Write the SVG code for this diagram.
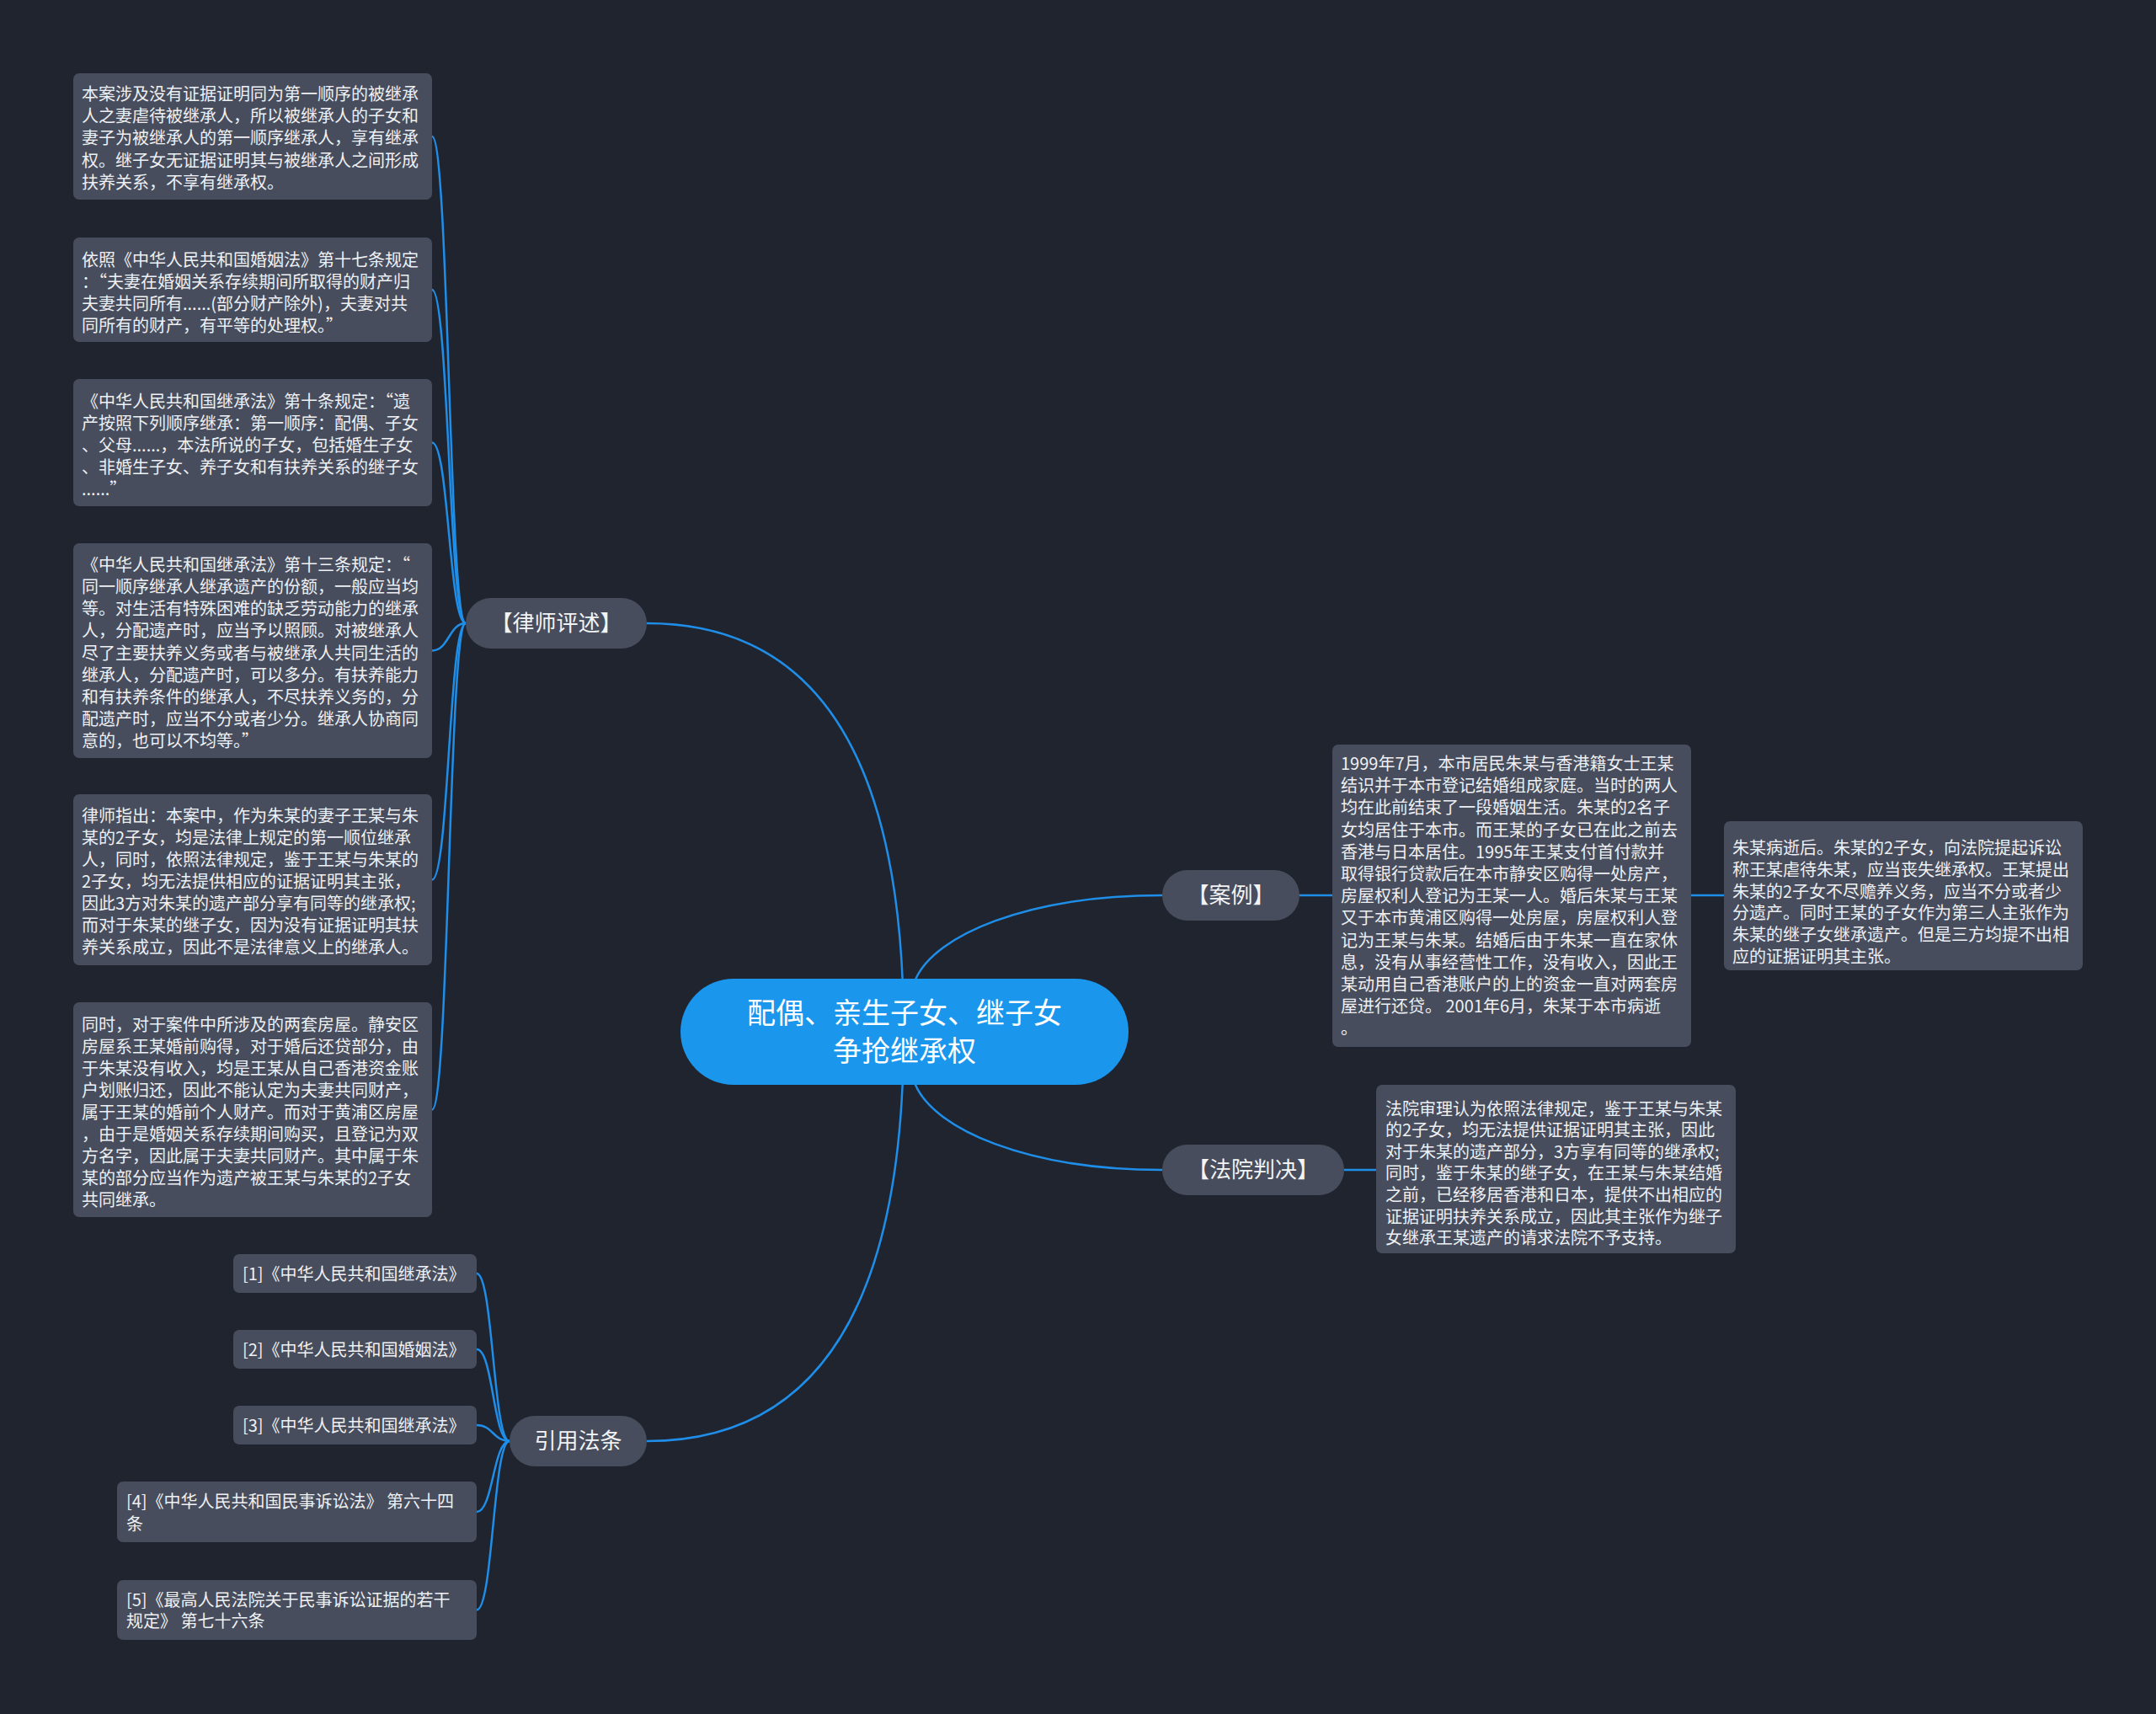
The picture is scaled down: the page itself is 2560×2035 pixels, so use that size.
<svg xmlns="http://www.w3.org/2000/svg" width="2560" height="2035" viewBox="0 0 2560 2035">
<style>
.box{fill:#474d5c}
.pill{fill:#474d5c}
.t{font-family:"Noto Sans CJK SC","Noto Sans",sans-serif;font-size:20px;fill:#eef0f3}
.b{font-family:"Noto Sans CJK SC","Noto Sans",sans-serif;font-size:26px;fill:#f2f3f5;text-anchor:middle}
.c{font-family:"Noto Sans CJK SC","Noto Sans",sans-serif;font-size:34px;fill:#ffffff;text-anchor:middle}
.link{fill:none;stroke:#1f8ee8;stroke-width:2.5}
</style>
<rect x="0" y="0" width="2560" height="2035" fill="#20242f"/>
<g id="connectors">
<path class="link" d="M768 740 Q1073 740 1073 1225"/>
<path class="link" d="M768 1711 Q1073 1711 1073 1225"/>
<path class="link" d="M1082 1200 L1087 1163 C1110 1110 1220 1063 1380 1063"/>
<path class="link" d="M1082 1250 L1087 1288 C1110 1341 1220 1389 1380 1389"/>
<path class="link" d="M1543 1063 L1582 1063"/>
<path class="link" d="M2008 1063 L2047 1063"/>
<path class="link" d="M1596 1389 L1634 1389"/>
<path class="link" d="M553 740 C533 740 533 162 513 162"/>
<path class="link" d="M553 740 C533 740 533 344 513 344"/>
<path class="link" d="M553 740 C533 740 533 525.5 513 525.5"/>
<path class="link" d="M553 740 C533 740 533 772.5 513 772.5"/>
<path class="link" d="M553 740 C533 740 533 1044.5 513 1044.5"/>
<path class="link" d="M553 740 C533 740 533 1317.5 513 1317.5"/>
<path class="link" d="M605 1711 C585.5 1711 585.5 1512 566 1512"/>
<path class="link" d="M605 1711 C585.5 1711 585.5 1602 566 1602"/>
<path class="link" d="M605 1711 C585.5 1711 585.5 1692 566 1692"/>
<path class="link" d="M605 1711 C585.5 1711 585.5 1795 566 1795"/>
<path class="link" d="M605 1711 C585.5 1711 585.5 1911.5 566 1911.5"/>
</g>
<g id="root">
<rect x="808" y="1162" width="532" height="126" rx="63" fill="#1a96ec"/>
<text class="c" x="1074" y="1215">配偶、亲生子女、继子女</text>
<text class="c" x="1074" y="1260">争抢继承权</text>
</g>
<g id="b-lawyer">
<rect class="pill" x="553" y="710" width="215" height="60" rx="30"/>
<text class="b" x="660.5" y="749">【律师评述】</text>
</g>
<g id="b-case">
<rect class="pill" x="1380" y="1033" width="163" height="60" rx="30"/>
<text class="b" x="1461.5" y="1072">【案例】</text>
</g>
<g id="b-court">
<rect class="pill" x="1380" y="1359" width="216" height="60" rx="30"/>
<text class="b" x="1488" y="1398">【法院判决】</text>
</g>
<g id="b-law">
<rect class="pill" x="605" y="1681" width="163" height="60" rx="30"/>
<text class="b" x="686.5" y="1720">引用法条</text>
</g>
<g id="n-l1">
<rect class="box" x="87" y="87" width="426" height="150" rx="7"/>
<text class="t"><tspan x="97" y="119">本案涉及没有证据证明同为第一顺序的被继承</tspan><tspan x="97" y="145.2">人之妻虐待被继承人，所以被继承人的子女和</tspan><tspan x="97" y="171.4">妻子为被继承人的第一顺序继承人，享有继承</tspan><tspan x="97" y="197.6">权。继子女无证据证明其与被继承人之间形成</tspan><tspan x="97" y="223.8">扶养关系，不享有继承权。</tspan></text>
</g>
<g id="n-l2">
<rect class="box" x="87" y="282" width="426" height="124" rx="7"/>
<text class="t"><tspan x="97" y="315.6">依照《中华人民共和国婚姻法》第十七条规定</tspan><tspan x="97" y="341.7">：“夫妻在婚姻关系存续期间所取得的财产归</tspan><tspan x="97" y="367.8">夫妻共同所有......(部分财产除外)，夫妻对共</tspan><tspan x="97" y="393.9">同所有的财产，有平等的处理权。”</tspan></text>
</g>
<g id="n-l3">
<rect class="box" x="87" y="450" width="426" height="151" rx="7"/>
<text class="t"><tspan x="97" y="484">《中华人民共和国继承法》第十条规定：“遗</tspan><tspan x="97" y="510">产按照下列顺序继承：第一顺序：配偶、子女</tspan><tspan x="97" y="536">、父母......，本法所说的子女，包括婚生子女</tspan><tspan x="97" y="562">、非婚生子女、养子女和有扶养关系的继子女</tspan><tspan x="97" y="588">......”</tspan></text>
</g>
<g id="n-l4">
<rect class="box" x="87" y="645" width="426" height="255" rx="7"/>
<text class="t"><tspan x="97" y="678.3">《中华人民共和国继承法》第十三条规定：“</tspan><tspan x="97" y="704.3">同一顺序继承人继承遗产的份额，一般应当均</tspan><tspan x="97" y="730.4">等。对生活有特殊困难的缺乏劳动能力的继承</tspan><tspan x="97" y="756.4">人，分配遗产时，应当予以照顾。对被继承人</tspan><tspan x="97" y="782.5">尽了主要扶养义务或者与被继承人共同生活的</tspan><tspan x="97" y="808.5">继承人，分配遗产时，可以多分。有扶养能力</tspan><tspan x="97" y="834.5">和有扶养条件的继承人，不尽扶养义务的，分</tspan><tspan x="97" y="860.6">配遗产时，应当不分或者少分。继承人协商同</tspan><tspan x="97" y="886.6">意的，也可以不均等。”</tspan></text>
</g>
<g id="n-l5">
<rect class="box" x="87" y="943" width="426" height="203" rx="7"/>
<text class="t"><tspan x="97" y="975.6">律师指出：本案中，作为朱某的妻子王某与朱</tspan><tspan x="97" y="1001.6">某的2子女，均是法律上规定的第一顺位继承</tspan><tspan x="97" y="1027.6">人，同时，依照法律规定，鉴于王某与朱某的</tspan><tspan x="97" y="1053.6">2子女，均无法提供相应的证据证明其主张，</tspan><tspan x="97" y="1079.6">因此3方对朱某的遗产部分享有同等的继承权;</tspan><tspan x="97" y="1105.6">而对于朱某的继子女，因为没有证据证明其扶</tspan><tspan x="97" y="1131.6">养关系成立，因此不是法律意义上的继承人。</tspan></text>
</g>
<g id="n-l6">
<rect class="box" x="87" y="1190" width="426" height="255" rx="7"/>
<text class="t"><tspan x="97" y="1224">同时，对于案件中所涉及的两套房屋。静安区</tspan><tspan x="97" y="1250">房屋系王某婚前购得，对于婚后还贷部分，由</tspan><tspan x="97" y="1276">于朱某没有收入，均是王某从自己香港资金账</tspan><tspan x="97" y="1302">户划账归还，因此不能认定为夫妻共同财产，</tspan><tspan x="97" y="1328">属于王某的婚前个人财产。而对于黄浦区房屋</tspan><tspan x="97" y="1354">，由于是婚姻关系存续期间购买，且登记为双</tspan><tspan x="97" y="1380">方名字，因此属于夫妻共同财产。其中属于朱</tspan><tspan x="97" y="1406">某的部分应当作为遗产被王某与朱某的2子女</tspan><tspan x="97" y="1432">共同继承。</tspan></text>
</g>
<g id="n-case">
<rect class="box" x="1582" y="884" width="426" height="359" rx="7"/>
<text class="t"><tspan x="1592" y="914">1999年7月，本市居民朱某与香港籍女士王某</tspan><tspan x="1592" y="940.2">结识并于本市登记结婚组成家庭。当时的两人</tspan><tspan x="1592" y="966.4">均在此前结束了一段婚姻生活。朱某的2名子</tspan><tspan x="1592" y="992.6">女均居住于本市。而王某的子女已在此之前去</tspan><tspan x="1592" y="1018.8">香港与日本居住。1995年王某支付首付款并</tspan><tspan x="1592" y="1045">取得银行贷款后在本市静安区购得一处房产，</tspan><tspan x="1592" y="1071.2">房屋权利人登记为王某一人。婚后朱某与王某</tspan><tspan x="1592" y="1097.4">又于本市黄浦区购得一处房屋，房屋权利人登</tspan><tspan x="1592" y="1123.6">记为王某与朱某。结婚后由于朱某一直在家休</tspan><tspan x="1592" y="1149.8">息，没有从事经营性工作，没有收入，因此王</tspan><tspan x="1592" y="1176">某动用自己香港账户的上的资金一直对两套房</tspan><tspan x="1592" y="1202.2">屋进行还贷。 2001年6月，朱某于本市病逝</tspan><tspan x="1592" y="1228.4">。</tspan></text>
</g>
<g id="n-case2">
<rect class="box" x="2047" y="975" width="426" height="177" rx="7"/>
<text class="t"><tspan x="2057" y="1014">朱某病逝后。朱某的2子女，向法院提起诉讼</tspan><tspan x="2057" y="1039.8">称王某虐待朱某，应当丧失继承权。王某提出</tspan><tspan x="2057" y="1065.6">朱某的2子女不尽赡养义务，应当不分或者少</tspan><tspan x="2057" y="1091.4">分遗产。同时王某的子女作为第三人主张作为</tspan><tspan x="2057" y="1117.2">朱某的继子女继承遗产。但是三方均提不出相</tspan><tspan x="2057" y="1143">应的证据证明其主张。</tspan></text>
</g>
<g id="n-court">
<rect class="box" x="1634" y="1288" width="427" height="200" rx="7"/>
<text class="t"><tspan x="1645" y="1323.6">法院审理认为依照法律规定，鉴于王某与朱某</tspan><tspan x="1645" y="1349.2">的2子女，均无法提供证据证明其主张，因此</tspan><tspan x="1645" y="1374.8">对于朱某的遗产部分，3方享有同等的继承权;</tspan><tspan x="1645" y="1400.4">同时，鉴于朱某的继子女，在王某与朱某结婚</tspan><tspan x="1645" y="1426">之前，已经移居香港和日本，提供不出相应的</tspan><tspan x="1645" y="1451.6">证据证明扶养关系成立，因此其主张作为继子</tspan><tspan x="1645" y="1477.2">女继承王某遗产的请求法院不予支持。</tspan></text>
</g>
<g id="n-r1">
<rect class="box" x="277" y="1489" width="289" height="46" rx="7"/>
<text class="t" x="288" y="1520">[1]《中华人民共和国继承法》</text>
</g>
<g id="n-r2">
<rect class="box" x="277" y="1579" width="289" height="46" rx="7"/>
<text class="t" x="288" y="1610">[2]《中华人民共和国婚姻法》</text>
</g>
<g id="n-r3">
<rect class="box" x="277" y="1669" width="289" height="46" rx="7"/>
<text class="t" x="288" y="1700">[3]《中华人民共和国继承法》</text>
</g>
<g id="n-r4">
<rect class="box" x="139" y="1759" width="427" height="72" rx="7"/>
<text class="t"><tspan x="150" y="1790">[4]《中华人民共和国民事诉讼法》 第六十四</tspan><tspan x="150" y="1817">条</tspan></text>
</g>
<g id="n-r5">
<rect class="box" x="139" y="1876" width="427" height="71" rx="7"/>
<text class="t"><tspan x="150" y="1907">[5]《最高人民法院关于民事诉讼证据的若干</tspan><tspan x="150" y="1932">规定》 第七十六条</tspan></text>
</g>
</svg>
